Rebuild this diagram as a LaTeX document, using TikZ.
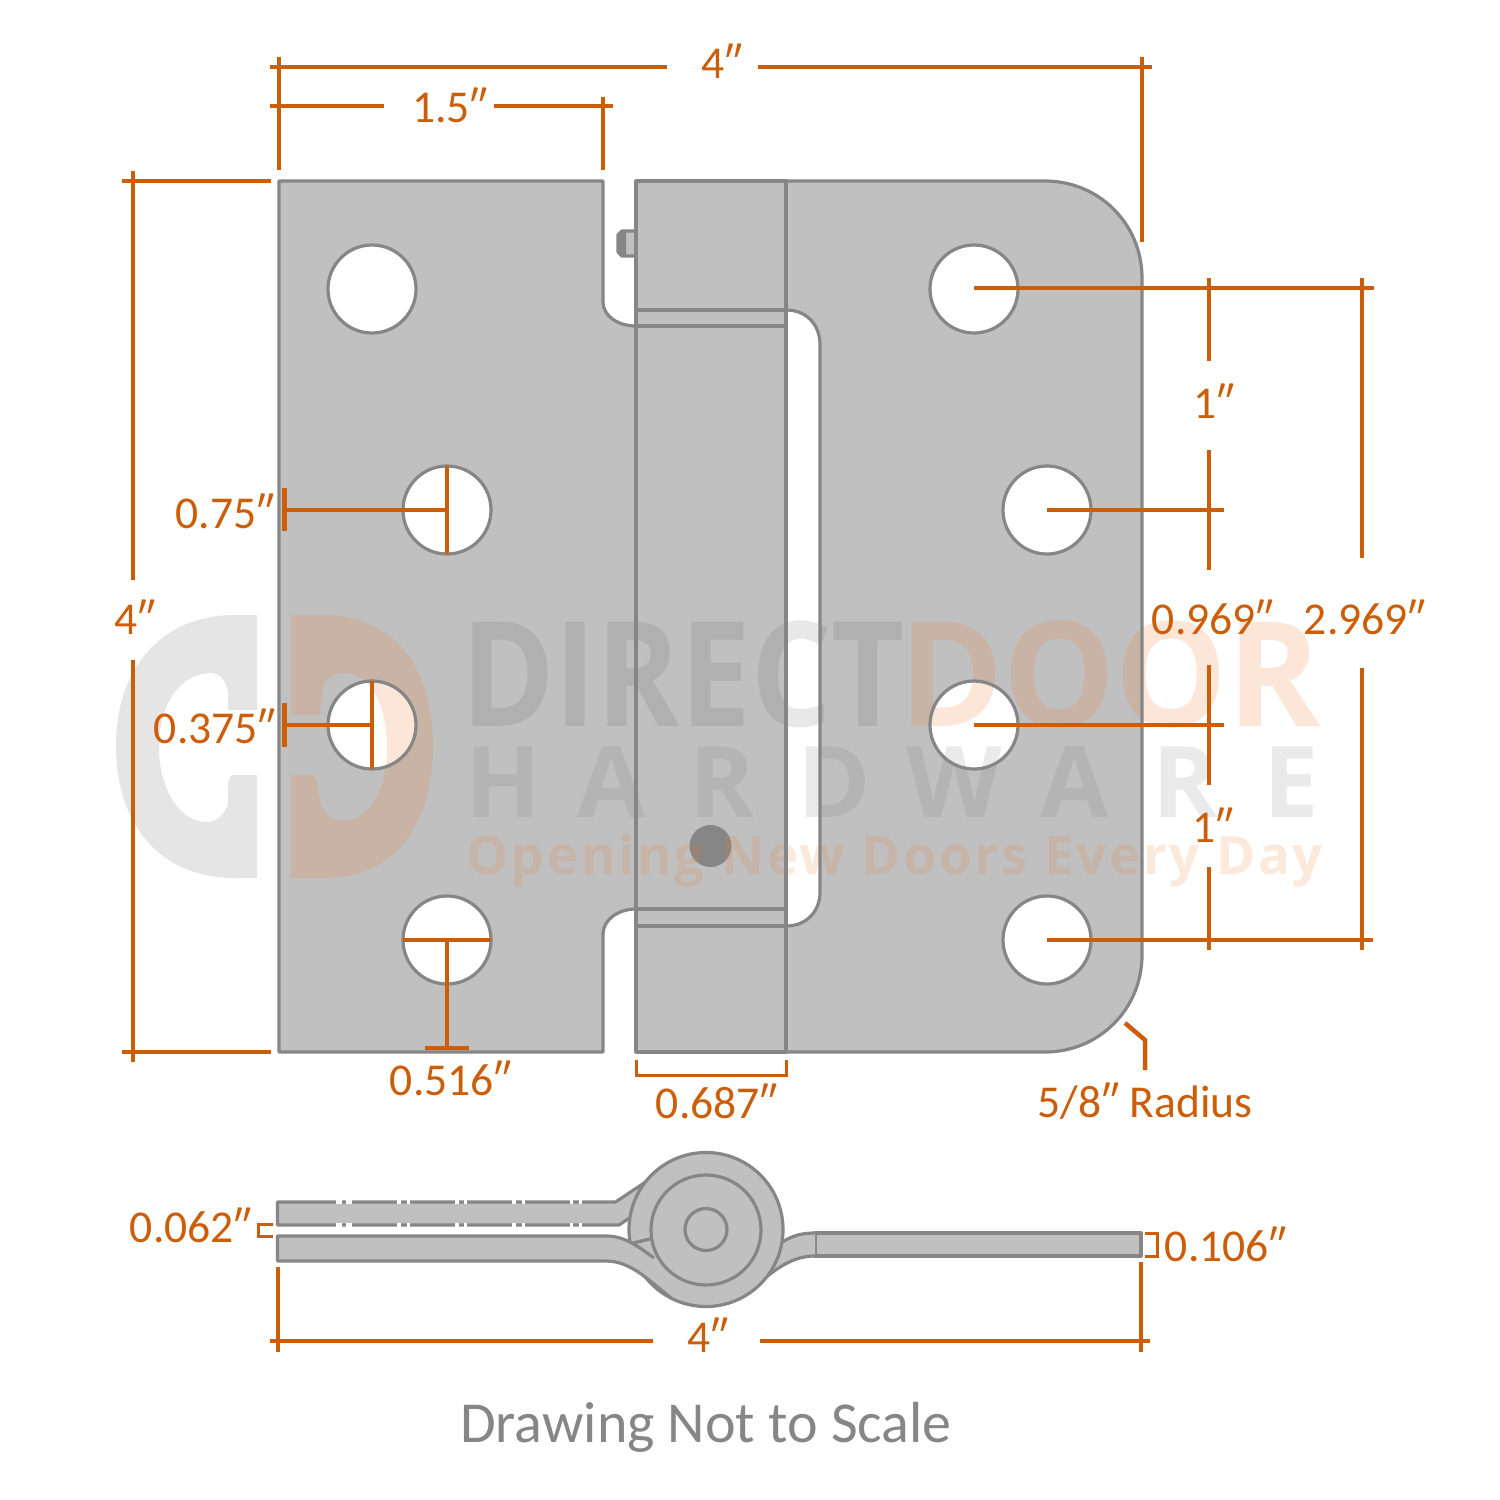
\documentclass[tikz,border=0pt]{standalone}
\usepackage{fontspec}
\setmainfont{Carlito}
\newfontfamily\wmfont{Open Sans}[BoldFont={Open Sans Bold}]
\usetikzlibrary{calc}
\definecolor{dimc}{HTML}{CC5E0A}
\definecolor{edge}{HTML}{868686}
\definecolor{metal}{HTML}{C0C0C0}
\definecolor{wmo}{HTML}{EB7D32}
\definecolor{wmd}{HTML}{3A3A3A}
\definecolor{wmh}{HTML}{757575}
\tikzset{
 part/.style={draw=edge,fill=metal,line width=3.2pt,line join=round},
 edgeln/.style={draw=edge,line width=3.2pt,line join=round},
 dimln/.style={draw=dimc,line width=4.5pt},
 dimthin/.style={draw=dimc,line width=3pt},
 lab/.style={text=dimc,font=\fontsize{45.6}{50}\selectfont,inner sep=0pt,anchor=center,yshift=1pt},
 note/.style={text=edge,font=\fontsize{58}{60}\selectfont,inner sep=0pt,anchor=center},
 wmdark/.style={text=wmd,text opacity=0.115,inner sep=0pt},
 wmgrey/.style={text=wmh,text opacity=0.15,inner sep=0pt},
 wmorange/.style={text=wmo,text opacity=0.19,inner sep=0pt},
 wmtagst/.style={text=wmo,text opacity=0.17,inner sep=0pt},
}
\def\leafLeft{(279,181) -- (603,181) -- (603,302) .. controls (603,316) and (618,326) .. (636,326)
  -- (636,909) .. controls (618,909) and (603,920) .. (603,934) -- (603,1052) -- (279,1052) -- cycle}
\def\leafRight{(786,181) -- (1045,181) .. controls (1099,181) and (1142,224) .. (1142,278)
  -- (1142,955) .. controls (1142,1009) and (1099,1052) .. (1045,1052) -- (786,1052) -- cycle}
\def\slotEdge{(786,310) .. controls (806,310) and (820,324) .. (820,345) -- (820,892)
  .. controls (820,912) and (806,926) .. (786,926)}
\begin{document}
\begin{tikzpicture}[x=1pt,y=-1pt]
\useasboundingbox (0,0) rectangle (1500,1500);
\fill[white] (0,0) rectangle (1500,1500);
% pin
\draw[part] (636,231) -- (622,231) -- (618,235) -- (618,252) -- (622,256) -- (636,256);
\fill[edge] (622,231) -- (618,235) -- (618,252) -- (622,256) -- (626,256) -- (626,231) -- cycle;
% fills
\fill[metal] \leafLeft;
\fill[metal] \leafRight;
\fill[white] \slotEdge -- cycle;
\fill[metal] (636,181) rectangle (786,1052);
\fill[edge] (710.5,846) circle (21);
\foreach \hx/\hy in {372/289,447/510,372/725,447/940,974/289,1047/510,974/725,1047/940}
  \fill[white] (\hx,\hy) circle (44);
% watermark
\fill[black,opacity=0.1] (257,615) -- (235,615) .. controls (160,615) and (116,670) .. (116,745)
  .. controls (116,825) and (160,878) .. (235,878) -- (257,878) -- (257,775) -- (232,775)
  .. controls (228,778) and (228,785) .. (228,792) -- (228,805) .. controls (222,818) and (215,822) .. (207,822)
  .. controls (180,822) and (159,790) .. (159,747) .. controls (159,705) and (180,673) .. (211,673)
  .. controls (220,673) and (228,682) .. (228,695) -- (228,710) -- (257,710) -- cycle;
\fill[wmo,opacity=0.19] (291,615) -- (325,615) .. controls (395,615) and (433,670) .. (433,745)
  .. controls (433,825) and (395,878) .. (325,878) -- (291,878) -- (291,775) -- (312,775)
  .. controls (317,778) and (318,785) .. (318,792) -- (322,807) .. controls (328,818) and (335,820) .. (345,820)
  .. controls (370,820) and (387,790) .. (387,747) .. controls (387,705) and (370,673) .. (345,673)
  .. controls (330,673) and (322,682) .. (322,695) -- (320,715) -- (291,715) -- cycle;
\node[wmdark,anchor=base west,font=\wmfont\bfseries\fontsize{146}{150}\selectfont] (wmdirect) at (461,726) {\scalebox{0.867}[1]{DIRECT}};
\node[wmorange,anchor=base west,font=\wmfont\bfseries\fontsize{146}{150}\selectfont] (wmdoor) at (899,726) {\scalebox{0.965}[1]{DOOR}};
\foreach \lx/\lt [count=\li] in {503/H,612/A,722/R,834/D,954/W,1075/A,1185/R,1291/E}
  \node[wmgrey,anchor=base,font=\wmfont\bfseries\fontsize{99}{100}\selectfont] (wmh\li) at (\lx,817) {\lt};
\node[wmtagst,anchor=base west,font=\wmfont\bfseries\fontsize{53}{55}\selectfont] (wmtag) at (466,874) {\addfontfeature{LetterSpace=5}Opening New Doors Every Day};
% strokes
\draw[edgeln] \leafLeft;
\draw[edgeln] \leafRight;
\draw[edgeln] \slotEdge;
\draw[edgeln] (636,181) rectangle (786,1052);
\draw[edgeln] (636,310) -- (786,310) (636,326) -- (786,326) (636,909) -- (786,909) (636,926) -- (786,926);
\foreach \hx/\hy in {372/289,447/510,372/725,447/940,974/289,1047/510,974/725,1047/940}
  \draw[edgeln] (\hx,\hy) circle (44);
% end view
\draw[part] (815,1233) -- (1141,1233) -- (1141,1256) -- (815,1256) -- cycle;
\fill[metal] (815,1233) .. controls (797,1233) and (788,1238) .. (778,1245) -- (765,1278)
  .. controls (780,1266) and (795,1256) .. (815,1256) -- cycle;
\draw[edgeln] (815,1233) .. controls (797,1233) and (788,1238) .. (778,1245)
  (765,1278) .. controls (780,1266) and (795,1256) .. (815,1256);
\fill[metal] (277.5,1202) -- (615.5,1202) -- (650,1179) -- (640,1222) -- (629,1218) -- (619,1225) -- (277.5,1225) -- cycle;
\draw[edgeln] (650,1179) -- (615.5,1202) -- (277.5,1202) -- (277.5,1225) -- (619,1225) -- (631,1217);
\draw[part] (706,1229.5) circle (77);
\fill[metal] (277.5,1236) -- (606,1236) .. controls (626,1236) and (640,1248) .. (654,1258)
  -- (706,1229.5) -- (672,1298.6) .. controls (650,1282) and (632,1261) .. (606,1261) -- (277.5,1261) -- cycle;
\draw[edgeln] (654,1258) .. controls (640,1248) and (626,1236) .. (606,1236) -- (277.5,1236) -- (277.5,1261) -- (606,1261)
  .. controls (632,1261) and (650,1282) .. (672,1298.6);
\draw[edgeln] (633,1243) -- (654,1238);
\draw[part] (706,1230) circle (55);
\draw[part] (706,1229.5) circle (21);
\foreach \ga/\gb in {336/342,346/352,397/401,407/410,455/458.5,464/467,512/516,522/525,570/573,579/582}{
  \fill[white] (\ga,1199.5) rectangle (\gb,1204);
  \fill[white] (\ga,1223) rectangle (\gb,1227.5);
}
% dimensions top
\draw[dimln] (270,67) -- (667,67) (758,67) -- (1152,67);
\draw[dimln] (279,57) -- (279,170) (1142,57) -- (1142,242);
\draw[dimln] (270,106) -- (384,106) (494,106) -- (613,106) (603,97) -- (603,170);
\node[lab] (t4a) at (722,62) {4″};
\node[lab] (t15) at (450,106) {1.5″};
% left
\draw[dimln] (122,181) -- (271,181) (122,1052) -- (271,1052);
\draw[dimln] (133,171) -- (133,580) (133,660) -- (133,1062);
\node[lab] (t4b) at (135,618) {4″};
\draw[dimln] (284,510) -- (447,510) (447,466) -- (447,554);
\draw[dimc,line width=5pt] (284,488) -- (284,531);
\node[lab] (t075) at (225,512) {0.75″};
\draw[dimln] (284,725) -- (372,725) (372,681) -- (372,769);
\draw[dimc,line width=5pt] (284,703) -- (284,747);
\node[lab] (t0375) at (215,727) {0.375″};
\draw[dimln] (403,940) -- (491,940) (447,940) -- (447,1048) (425,1048) -- (469,1048);
\node[lab] (t0516) at (451,1079) {0.516″};
\draw[dimthin] (636,1060) -- (636,1075) -- (786,1075) -- (786,1060);
\node[lab] (t0687) at (717,1102) {0.687″};
\draw[dimln] (1125,1023) -- (1145,1040) -- (1145,1070);
\node[lab] (t58) at (1145,1102) {5/8″ Radius};
% right
\draw[dimln] (974,288) -- (1374,288);
\draw[dimln] (1209,278) -- (1209,361) (1209,450) -- (1209,570) (1209,665) -- (1209,785) (1209,867) -- (1209,950);
\draw[dimln] (1047,510) -- (1224,510) (974,725) -- (1224,725) (1047,940) -- (1373,940);
\draw[dimln] (1362,278) -- (1362,558) (1362,668) -- (1362,950);
\node[lab] (t1a) at (1214,402) {1″};
\node[lab] (t0969) at (1213,618) {0.969″};
\node[lab] (t2969) at (1365,618) {2.969″};
\node[lab] (t1b) at (1213,826) {1″};
% end view dims
\draw[dimthin] (273,1224) -- (258,1224) -- (258,1236.5) -- (273,1236.5);
\node[lab] (t0062) at (191,1226) {0.062″};
\draw[dimthin] (1145,1233) -- (1157,1233) -- (1157,1256) -- (1145,1256);
\node[lab] (t0106) at (1226,1245) {0.106″};
\draw[dimln] (270,1341) -- (653,1341) (760,1341) -- (1150,1341);
\draw[dimln] (278,1267) -- (278,1352) (1141,1262) -- (1141,1352);
\node[lab] (t4c) at (708,1336) {4″};
\node[note] (tnote) at (706,1427) {Drawing Not to Scale};
\end{tikzpicture}
\end{document}
